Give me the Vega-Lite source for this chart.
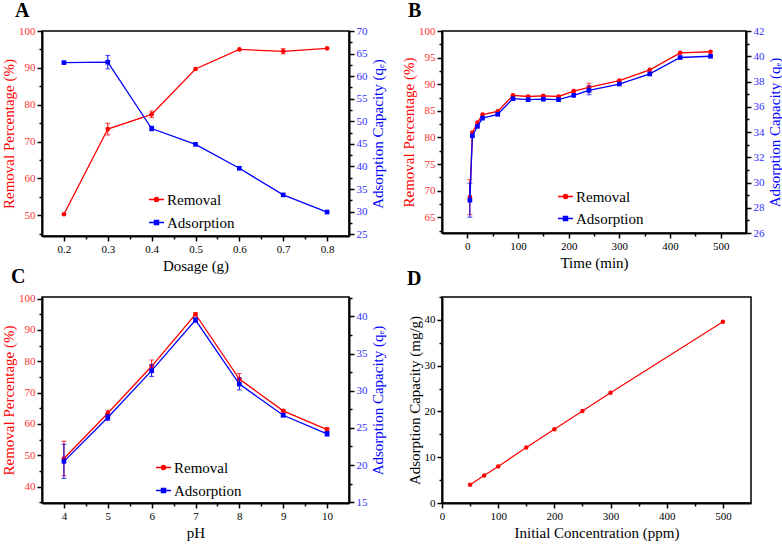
{
  "$schema": "https://vega.github.io/schema/vega-lite/v6.json",
  "padding": {"left": 0, "top": 0, "right": 5, "bottom": 0},
  "background": "white",
  "config": {
    "view": {"stroke": "black", "strokeWidth": 1.5},
    "axis": {"labelFont": "Liberation Serif", "labelFontSize": 11, "titleFont": "Liberation Serif", "titleFontSize": 15, "titleFontWeight": "normal", "domainColor": "black", "domainWidth": 2, "tickColor": "black", "tickWidth": 1.5, "grid": false, "labelOverlap": false, "labelFlush": false, "labelPadding": 2, "titleColor": "black", "labelColor": "black"},
    "axisLeft": {"titlePadding": 2},
    "axisRight": {"titleBaseline": "top", "titlePadding": 3},
    "title": {"font": "Liberation Serif", "fontSize": 20, "fontWeight": "bold", "anchor": "start", "frame": "group", "color": "black"},
    "legend": {"labelFont": "Liberation Serif", "labelFontSize": 14, "labelColor": "black", "padding": 0}
  },
  "data": {"values": [
    {"p":"A","s":"Removal","x":0.2,"v":50.3,"e":0},
    {"p":"A","s":"Removal","x":0.3,"v":73.4,"e":1.6},
    {"p":"A","s":"Removal","x":0.4,"v":77.4,"e":0.9},
    {"p":"A","s":"Removal","x":0.5,"v":89.7,"e":0},
    {"p":"A","s":"Removal","x":0.6,"v":95.0,"e":0},
    {"p":"A","s":"Removal","x":0.7,"v":94.5,"e":0.7},
    {"p":"A","s":"Removal","x":0.8,"v":95.3,"e":0},
    {"p":"A","s":"Adsorption","x":0.2,"v":63.0,"e":0},
    {"p":"A","s":"Adsorption","x":0.3,"v":63.1,"e":1.5},
    {"p":"A","s":"Adsorption","x":0.4,"v":48.4,"e":0.5},
    {"p":"A","s":"Adsorption","x":0.5,"v":44.9,"e":0},
    {"p":"A","s":"Adsorption","x":0.6,"v":39.6,"e":0},
    {"p":"A","s":"Adsorption","x":0.7,"v":33.7,"e":0},
    {"p":"A","s":"Adsorption","x":0.8,"v":29.9,"e":0},
    {"p":"B","s":"Removal","x":5,"v":68.8,"e":3.3},
    {"p":"B","s":"Removal","x":10,"v":80.9,"e":0},
    {"p":"B","s":"Removal","x":20,"v":82.8,"e":0},
    {"p":"B","s":"Removal","x":30,"v":84.3,"e":0},
    {"p":"B","s":"Removal","x":60,"v":84.9,"e":0},
    {"p":"B","s":"Removal","x":90,"v":87.9,"e":0},
    {"p":"B","s":"Removal","x":120,"v":87.7,"e":0},
    {"p":"B","s":"Removal","x":150,"v":87.8,"e":0},
    {"p":"B","s":"Removal","x":180,"v":87.7,"e":0},
    {"p":"B","s":"Removal","x":210,"v":88.7,"e":0},
    {"p":"B","s":"Removal","x":240,"v":89.4,"e":0.8},
    {"p":"B","s":"Removal","x":300,"v":90.7,"e":0},
    {"p":"B","s":"Removal","x":360,"v":92.7,"e":0},
    {"p":"B","s":"Removal","x":420,"v":95.9,"e":0},
    {"p":"B","s":"Removal","x":480,"v":96.1,"e":0},
    {"p":"B","s":"Adsorption","x":5,"v":28.6,"e":1.35},
    {"p":"B","s":"Adsorption","x":10,"v":33.7,"e":0},
    {"p":"B","s":"Adsorption","x":20,"v":34.45,"e":0},
    {"p":"B","s":"Adsorption","x":30,"v":35.1,"e":0},
    {"p":"B","s":"Adsorption","x":60,"v":35.4,"e":0},
    {"p":"B","s":"Adsorption","x":90,"v":36.64,"e":0},
    {"p":"B","s":"Adsorption","x":120,"v":36.56,"e":0},
    {"p":"B","s":"Adsorption","x":150,"v":36.6,"e":0},
    {"p":"B","s":"Adsorption","x":180,"v":36.56,"e":0},
    {"p":"B","s":"Adsorption","x":210,"v":36.9,"e":0},
    {"p":"B","s":"Adsorption","x":240,"v":37.3,"e":0.35},
    {"p":"B","s":"Adsorption","x":300,"v":37.8,"e":0},
    {"p":"B","s":"Adsorption","x":360,"v":38.6,"e":0},
    {"p":"B","s":"Adsorption","x":420,"v":39.9,"e":0},
    {"p":"B","s":"Adsorption","x":480,"v":40.0,"e":0},
    {"p":"C","s":"Removal","x":4,"v":49.0,"e":5.5},
    {"p":"C","s":"Removal","x":5,"v":63.4,"e":1.0},
    {"p":"C","s":"Removal","x":6,"v":78.4,"e":2.0},
    {"p":"C","s":"Removal","x":7,"v":95.0,"e":0.5},
    {"p":"C","s":"Removal","x":8,"v":74.3,"e":1.8},
    {"p":"C","s":"Removal","x":9,"v":64.2,"e":0.4},
    {"p":"C","s":"Removal","x":10,"v":58.2,"e":0.7},
    {"p":"C","s":"Adsorption","x":4,"v":20.5,"e":2.3},
    {"p":"C","s":"Adsorption","x":5,"v":26.4,"e":0.4},
    {"p":"C","s":"Adsorption","x":6,"v":32.7,"e":0.8},
    {"p":"C","s":"Adsorption","x":7,"v":39.5,"e":0.3},
    {"p":"C","s":"Adsorption","x":8,"v":30.9,"e":0.8},
    {"p":"C","s":"Adsorption","x":9,"v":26.7,"e":0.2},
    {"p":"C","s":"Adsorption","x":10,"v":24.2,"e":0.3},
    {"p":"D","s":"Capacity","x":50,"v":4.0,"e":0},
    {"p":"D","s":"Capacity","x":75,"v":6.0,"e":0},
    {"p":"D","s":"Capacity","x":100,"v":8.0,"e":0},
    {"p":"D","s":"Capacity","x":150,"v":12.1,"e":0},
    {"p":"D","s":"Capacity","x":200,"v":16.1,"e":0},
    {"p":"D","s":"Capacity","x":250,"v":20.1,"e":0},
    {"p":"D","s":"Capacity","x":300,"v":24.1,"e":0},
    {"p":"D","s":"Capacity","x":500,"v":39.6,"e":0}
  ]},
  "bounds": "flush",
  "columns": 2,
  "spacing": {"row": 61, "column": 93},
  "resolve": {"scale": {"color": "independent"}, "legend": {"color": "independent"}},
  "concat": [
        {
          "width": 307, "height": 205,
          "title": {"text": "A", "dx": -27, "offset": 4},
          "transform": [{"filter": "datum.p==='A'"}],
          "encoding": {"x": {"field": "x", "type": "quantitative", "scale": {"domain": [0.15, 0.85]},
            "axis": {"title": "Dosage (g)", "values": [0.2,0.25,0.3,0.35,0.4,0.45,0.5,0.55,0.6,0.65,0.7,0.75,0.8],
              "labelExpr": "abs(datum.value*10-round(datum.value*10))<0.001 ? format(datum.value,'.1f') : ''",
              "tickSize": {"condition": {"test": "abs(datum.value*10-round(datum.value*10))<0.001", "value": 5}, "value": 3}}}},
          "layer": [
            {
              "transform": [{"filter": "datum.s==='Removal'"}],
              "encoding": {"y": {"field": "v", "type": "quantitative", "scale": {"domain": [44.4, 100]},
                "axis": {"title": "Removal Percentage (%)", "titleColor": "#ff0000", "labelColor": "#ff3030",
                  "values": [45,50,55,60,65,70,75,80,85,90,95,100],
                  "labelExpr": "datum.value%10===0 ? format(datum.value,'d') : ''",
                  "tickSize": {"condition": {"test": "datum.value%10===0", "value": 5}, "value": 3}}}},
              "layer": [
                {"mark": {"type": "line", "strokeWidth": 1.3},
                 "encoding": {"color": {"field": "s", "type": "nominal", "scale": {"domain": ["Removal", "Adsorption"], "range": ["#ff0000", "#0000ff"]},
                   "legend": {"orient": "none", "legendX": 106, "legendY": 160, "title": null, "symbolSize": 225, "labelOffset": 2, "rowPadding": 6, "labelFont": "Liberation Serif", "labelFontSize": 15,
                     "encode": {"symbols": {"update": {
                       "shape": {"signal": "datum.value==='Removal' ? 'M-1,0H1M-0.28,0A0.28,0.28,0,1,1,0.28,0A0.28,0.28,0,1,1,-0.28,0Z' : 'M-1,0H1M-0.28,-0.28H0.28V0.28H-0.28Z'"},
                       "fill": {"signal": "datum.value==='Removal' ? '#ff0000' : '#0000ff'"},
                       "stroke": {"signal": "datum.value==='Removal' ? '#ff0000' : '#0000ff'"},
                       "strokeWidth": {"value": 1.3}, "opacity": {"value": 1}, "fillOpacity": {"value": 1}}}}}}}},
                {"mark": {"type": "point", "shape": "circle", "filled": true, "color": "#ff0000", "size": 22, "opacity": 1}},
                {"transform": [{"filter": "datum.e>0"}], "mark": {"type": "errorbar", "ticks": {"size": 5}, "color": "#ff0000"}, "encoding": {"yError": {"field": "e"}}}
              ]
            },
            {
              "transform": [{"filter": "datum.s==='Adsorption'"}],
              "encoding": {"y": {"field": "v", "type": "quantitative", "scale": {"domain": [24.6, 70]},
                "axis": {"orient": "right", "title": "Adsorption Capacity (qₑ)", "titleAngle": 270, "titleColor": "#0000ff", "labelColor": "#3030ff",
                  "values": [25,27.5,30,32.5,35,37.5,40,42.5,45,47.5,50,52.5,55,57.5,60,62.5,65,67.5,70],
                  "labelExpr": "datum.value%5===0 ? format(datum.value,'d') : ''",
                  "tickSize": {"condition": {"test": "datum.value%5===0", "value": 5}, "value": 3}}}},
              "layer": [
                {"mark": {"type": "line", "strokeWidth": 1.3, "color": "#0000ff"}},
                {"mark": {"type": "point", "shape": "square", "filled": true, "color": "#0000ff", "size": 22, "opacity": 1}},
                {"transform": [{"filter": "datum.e>0"}], "mark": {"type": "errorbar", "ticks": {"size": 5}, "color": "#0000ff"}, "encoding": {"yError": {"field": "e"}}}
              ]
            }
          ],
          "resolve": {"scale": {"y": "independent"}}
        },
        {
          "width": 304, "height": 202,
          "title": {"text": "B", "dx": -34, "offset": 4},
          "transform": [{"filter": "datum.p==='B'"}],
          "encoding": {"x": {"field": "x", "type": "quantitative", "scale": {"domain": [-50, 550], "nice": false},
            "axis": {"title": "Time (min)", "values": [0,50,100,150,200,250,300,350,400,450,500],
              "labelExpr": "datum.value%100===0 ? format(datum.value,'d') : ''",
              "tickSize": {"condition": {"test": "datum.value%100===0", "value": 5}, "value": 3}}}},
          "layer": [
            {
              "transform": [{"filter": "datum.s==='Removal'"}],
              "encoding": {"y": {"field": "v", "type": "quantitative", "scale": {"domain": [62.06, 100], "nice": false},
                "axis": {"title": "Removal Percentage (%)", "titleColor": "#ff0000", "labelColor": "#ff3030",
                  "values": [62.5,65,67.5,70,72.5,75,77.5,80,82.5,85,87.5,90,92.5,95,97.5,100],
                  "labelExpr": "datum.value%5===0 ? format(datum.value,'d') : ''",
                  "tickSize": {"condition": {"test": "datum.value%5===0", "value": 5}, "value": 3}}}},
              "layer": [
                {"mark": {"type": "line", "strokeWidth": 1.3},
                 "encoding": {"color": {"field": "s", "type": "nominal", "scale": {"domain": ["Removal", "Adsorption"], "range": ["#ff0000", "#0000ff"]},
                   "legend": {"orient": "none", "legendX": 115, "legendY": 157, "title": null, "symbolSize": 225, "labelOffset": 2, "rowPadding": 5, "labelFont": "Liberation Serif", "labelFontSize": 15,
                     "encode": {"symbols": {"update": {
                       "shape": {"signal": "datum.value==='Removal' ? 'M-1,0H1M-0.28,0A0.28,0.28,0,1,1,0.28,0A0.28,0.28,0,1,1,-0.28,0Z' : 'M-1,0H1M-0.28,-0.28H0.28V0.28H-0.28Z'"},
                       "fill": {"signal": "datum.value==='Removal' ? '#ff0000' : '#0000ff'"},
                       "stroke": {"signal": "datum.value==='Removal' ? '#ff0000' : '#0000ff'"},
                       "strokeWidth": {"value": 1.3}, "opacity": {"value": 1}, "fillOpacity": {"value": 1}}}}}}}},
                {"mark": {"type": "point", "shape": "circle", "filled": true, "color": "#ff0000", "size": 22, "opacity": 1}},
                {"transform": [{"filter": "datum.e>0"}], "mark": {"type": "errorbar", "ticks": {"size": 5}, "color": "#ff0000"}, "encoding": {"yError": {"field": "e"}}}
              ]
            },
            {
              "transform": [{"filter": "datum.s==='Adsorption'"}],
              "encoding": {"y": {"field": "v", "type": "quantitative", "scale": {"domain": [26, 42], "nice": false},
                "axis": {"orient": "right", "title": "Adsorption Capacity (qₑ)", "titleAngle": 270, "titleColor": "#0000ff", "labelColor": "#3030ff",
                  "values": [26,27,28,29,30,31,32,33,34,35,36,37,38,39,40,41,42],
                  "labelExpr": "datum.value%2===0 ? format(datum.value,'d') : ''",
                  "tickSize": {"condition": {"test": "datum.value%2===0", "value": 5}, "value": 3}}}},
              "layer": [
                {"mark": {"type": "line", "strokeWidth": 1.3, "color": "#0000ff"}},
                {"mark": {"type": "point", "shape": "square", "filled": true, "color": "#0000ff", "size": 22, "opacity": 1}},
                {"transform": [{"filter": "datum.e>0"}], "mark": {"type": "errorbar", "ticks": {"size": 5}, "color": "#0000ff"}, "encoding": {"yError": {"field": "e"}}}
              ]
            }
          ],
          "resolve": {"scale": {"y": "independent"}}
        },
        {
          "width": 307, "height": 206,
          "title": {"text": "C", "dx": -31, "offset": 5},
          "transform": [{"filter": "datum.p==='C'"}],
          "encoding": {"x": {"field": "x", "type": "quantitative", "scale": {"domain": [3.5, 10.5], "nice": false},
            "axis": {"title": "pH", "values": [4,4.5,5,5.5,6,6.5,7,7.5,8,8.5,9,9.5,10],
              "labelExpr": "datum.value%1===0 ? format(datum.value,'d') : ''",
              "tickSize": {"condition": {"test": "datum.value%1===0", "value": 5}, "value": 3}}}},
          "layer": [
            {
              "transform": [{"filter": "datum.s==='Removal'"}],
              "encoding": {"y": {"field": "v", "type": "quantitative", "scale": {"domain": [34.8, 100.5], "nice": false},
                "axis": {"title": "Removal Percentage (%)", "titleColor": "#ff0000", "labelColor": "#ff3030",
                  "values": [35,40,45,50,55,60,65,70,75,80,85,90,95,100],
                  "labelExpr": "datum.value%10===0 ? format(datum.value,'d') : ''",
                  "tickSize": {"condition": {"test": "datum.value%10===0", "value": 5}, "value": 3}}}},
              "layer": [
                {"mark": {"type": "line", "strokeWidth": 1.3},
                 "encoding": {"color": {"field": "s", "type": "nominal", "scale": {"domain": ["Removal", "Adsorption"], "range": ["#ff0000", "#0000ff"]},
                   "legend": {"orient": "none", "legendX": 113, "legendY": 162, "title": null, "symbolSize": 225, "labelOffset": 2, "rowPadding": 6, "labelFont": "Liberation Serif", "labelFontSize": 15,
                     "encode": {"symbols": {"update": {
                       "shape": {"signal": "datum.value==='Removal' ? 'M-1,0H1M-0.28,0A0.28,0.28,0,1,1,0.28,0A0.28,0.28,0,1,1,-0.28,0Z' : 'M-1,0H1M-0.28,-0.28H0.28V0.28H-0.28Z'"},
                       "fill": {"signal": "datum.value==='Removal' ? '#ff0000' : '#0000ff'"},
                       "stroke": {"signal": "datum.value==='Removal' ? '#ff0000' : '#0000ff'"},
                       "strokeWidth": {"value": 1.3}, "opacity": {"value": 1}, "fillOpacity": {"value": 1}}}}}}}},
                {"mark": {"type": "point", "shape": "circle", "filled": true, "color": "#ff0000", "size": 22, "opacity": 1}},
                {"transform": [{"filter": "datum.e>0"}], "mark": {"type": "errorbar", "ticks": {"size": 5}, "color": "#ff0000"}, "encoding": {"yError": {"field": "e"}}}
              ]
            },
            {
              "transform": [{"filter": "datum.s==='Adsorption'"}],
              "encoding": {"y": {"field": "v", "type": "quantitative", "scale": {"domain": [14.9, 42.6], "nice": false},
                "axis": {"orient": "right", "title": "Adsorption Capacity (qₑ)", "titleAngle": 270, "titleColor": "#0000ff", "labelColor": "#3030ff",
                  "values": [15,17.5,20,22.5,25,27.5,30,32.5,35,37.5,40,42.5],
                  "labelExpr": "datum.value%5===0 ? format(datum.value,'d') : ''",
                  "tickSize": {"condition": {"test": "datum.value%5===0", "value": 5}, "value": 3}}}},
              "layer": [
                {"mark": {"type": "line", "strokeWidth": 1.3, "color": "#0000ff"}},
                {"mark": {"type": "point", "shape": "square", "filled": true, "color": "#0000ff", "size": 22, "opacity": 1}},
                {"transform": [{"filter": "datum.e>0"}], "mark": {"type": "errorbar", "ticks": {"size": 5}, "color": "#0000ff"}, "encoding": {"yError": {"field": "e"}}}
              ]
            }
          ],
          "resolve": {"scale": {"y": "independent"}}
        },
        {
          "width": 309, "height": 206,
          "title": {"text": "D", "dx": -35, "offset": 2},
          "transform": [{"filter": "datum.p==='D'"}],
          "encoding": {
            "x": {"field": "x", "type": "quantitative", "scale": {"domain": [0, 550], "nice": false},
              "axis": {"title": "Initial Concentration (ppm)", "values": [0,50,100,150,200,250,300,350,400,450,500],
                "labelExpr": "datum.value%100===0 ? format(datum.value,'d') : ''",
                "tickSize": {"condition": {"test": "datum.value%100===0", "value": 5}, "value": 3}}},
            "y": {"field": "v", "type": "quantitative", "scale": {"domain": [0, 45], "nice": false},
              "axis": {"title": "Adsorption Capacity (mg/g)", "values": [0,5,10,15,20,25,30,35,40,45],
                "labelExpr": "datum.value%10===0 ? format(datum.value,'d') : ''",
                "tickSize": {"condition": {"test": "datum.value%10===0", "value": 5}, "value": 3}}}
          },
          "layer": [
            {"mark": {"type": "line", "strokeWidth": 1.2, "color": "#ff0000"}},
            {"mark": {"type": "point", "shape": "circle", "filled": true, "color": "#ff0000", "size": 20, "opacity": 1}}
          ]
        }
  ]
}
